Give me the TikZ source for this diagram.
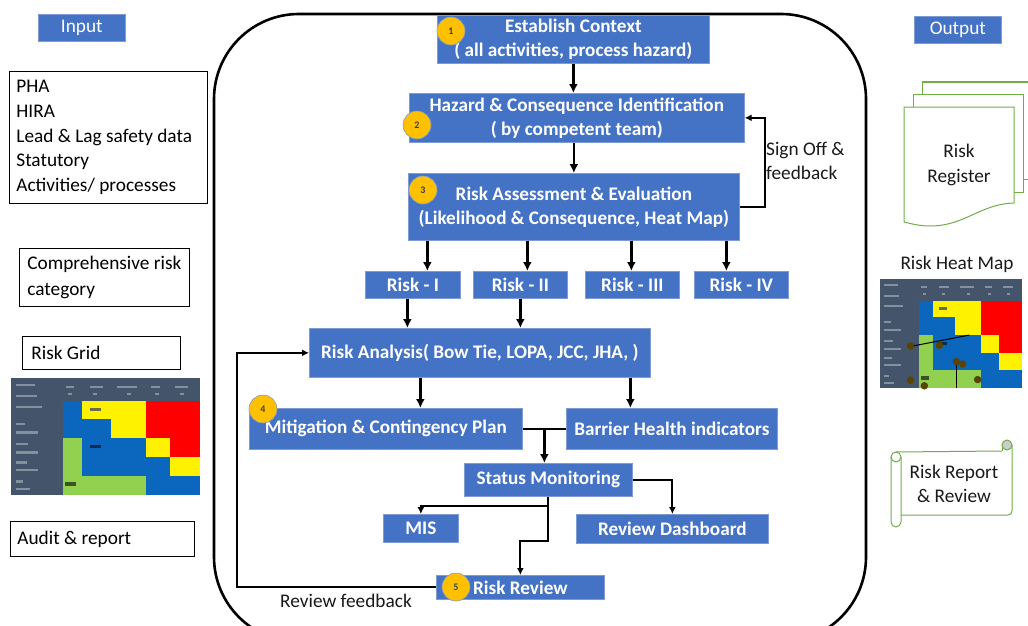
\documentclass[tikz,border=0pt]{standalone}
\usepackage{fontspec}
\setmainfont{Carlito}
\usetikzlibrary{arrows.meta,calc}
\definecolor{bluebox}{HTML}{4472C4}
\definecolor{blueedge}{HTML}{7F9BD3}
\definecolor{badge}{HTML}{FFC000}
\definecolor{docgreen}{HTML}{70AD47}
\definecolor{slate}{HTML}{44546A}
\definecolor{hmblue}{HTML}{0B66BE}
\definecolor{hmgreen}{HTML}{92D050}
\tikzset{
  x=1pt,y=-1pt,
  blockstyle/.style={draw=blueedge,line width=0.7pt,fill=bluebox,text=white,font=\fontsize{19.2}{24}\selectfont\bfseries,align=center,inner sep=0pt,anchor=north west},
  tagstyle/.style={draw=blueedge,line width=0.7pt,fill=bluebox,text=white,font=\fontsize{19.3}{22}\selectfont,inner sep=0pt,anchor=north west},
  notestyle/.style={draw=black,line width=0.8pt,fill=white,font=\fontsize{19.3}{24.7}\selectfont,align=flush left,inner sep=0pt,anchor=north west},
  plainlabel/.style={font=\fontsize{19.3}{24.5}\selectfont,align=center,inner sep=0pt,text=black!90},
  leftlabel/.style={font=\fontsize{19.3}{24}\selectfont,align=left,inner sep=0pt,text=black!90,anchor=west},
  badgestyle/.style={circle,draw=blueedge,line width=0.6pt,fill=badge,minimum size=28pt,inner sep=0pt,font=\fontsize{10}{10}\selectfont\bfseries,text=black!75},
  flow/.style={draw=black,line width=2.5pt,-{Latex[length=9pt,width=9pt]}},
  flowthin/.style={draw=black,line width=2.2pt,-{Latex[length=7pt,width=7pt]}},
  joinline/.style={draw=black,line width=2.2pt},
  docline/.style={draw=docgreen,line width=1pt},
}
\newcommand{\heatmapcells}{%
  \fill[slate] (33,25) rectangle (600,375);
  \fill[hmblue] (188,95) rectangle (245,205);
  \fill[yellow] (245,95) rectangle (437,148);
  \fill[yellow] (333,148) rectangle (437,205);
  \fill[hmblue] (245,148) rectangle (333,205);
  \fill[red] (437,95) rectangle (600,205);
  \fill[red] (510,205) rectangle (600,262);
  \fill[yellow] (437,205) rectangle (510,262);
  \fill[hmgreen] (188,205) rectangle (245,318);
  \fill[hmblue] (245,205) rectangle (437,318);
  \fill[hmblue] (437,262) rectangle (510,318);
  \fill[yellow] (510,262) rectangle (600,318);
  \fill[hmgreen] (188,318) rectangle (437,375);
  \fill[hmblue] (437,318) rectangle (600,375);
  \foreach \xa/\xb/\yy in {48/105/42,48/110/75,48/125/108,48/75/160,48/115/185,48/85/220,48/115/245,48/80/275,48/115/298,48/70/332,48/90/355,
     198/222/48,270/310/48,352/410/48,452/480/48,525/565/48,205/215/70,280/292/70,380/392/70,465/477/70,540/552/70}
    \fill[slate!65!white] (\xa,\yy) rectangle (\xb,\yy+7);
  \fill[black!65!yellow] (270,115) rectangle (302,125);
  \fill[black!55!hmblue] (270,226) rectangle (302,236);
  \fill[black!60!hmgreen] (195,338) rectangle (228,348);
}
\begin{document}
\begin{tikzpicture}
\useasboundingbox (0,0) rectangle (1028,626);
\begin{scope}
\clip (0,0) rectangle (1028,626);
\draw[black,line width=2.6pt,rounded corners=85pt] (214,14) rectangle (866,642);
\end{scope}

% input column
\node[tagstyle,minimum width=87pt,minimum height=27pt] (inp) at (38,14) {Input};
\node[notestyle,minimum width=198pt,minimum height=132pt,text width=184pt] (src) at (9,71) {PHA\\HIRA\\Lead \& Lag safety data\\Statutory\\Activities/ processes};
\node[notestyle,minimum width=170pt,minimum height=58pt,text width=154pt] (cat) at (19,248) {\mbox{Comprehensive risk}\\[1.5pt]category};
\node[notestyle,minimum width=158pt,minimum height=33pt,text width=140pt] (grid) at (22,336) {Risk Grid};
\node[notestyle,minimum width=184pt,minimum height=35pt,text width=170pt] (aud) at (10,521) {Audit \& report};
\begin{scope}[shift={(0,369.667)},x=0.3333pt,y=-0.3333pt]
\heatmapcells
\end{scope}

% output column
\node[tagstyle,minimum width=87pt,minimum height=27pt] (outp) at (914,16) {Output};
\draw[docline] (922,94) -- (922,82) -- (1028,82);
\draw[docline] (1023,179) -- (1028,179);
\draw[docline] (913,107) -- (913,94) -- (1023,94) -- (1023,192) -- (1014,192);
\draw[docline] (904,107) -- (1014,107) -- (1014,203)
   .. controls (980,204) and (965,226) .. (930,226)
   .. controls (920,226) and (912,224) .. (904,222) -- cycle;
\node[plainlabel] (reg) at (959,165) {Risk\\Register};
\node[plainlabel] (hmt) at (957,264) {Risk Heat Map};
\begin{scope}[shift={(871.735,271.2)},x=0.25044pt,y=-0.31143pt]
\heatmapcells
\draw[black,line width=1pt] (165,240) -- (390,205);
\draw[black,line width=1pt] (338,290) -- (338,375);
\foreach \px/\py in {270/238,363/298,423/348,155/350,210/368,338/290,155/240}
  \fill[black!65!badge] (\px,\py) circle[x radius=15,y radius=12];
\end{scope}
% scroll
\draw[docline] (896,452) -- (1002,451);
\draw[docline] (1002,445) -- (1002,451);
\draw[docline,rounded corners=4pt] (1012,445) -- (1012,515) -- (901,515);
\draw[docline,rounded corners=5pt] (891,457) -- (891,527) -- (901,527) -- (901,457);
\draw[docline] (896,457) circle[radius=5pt];
\draw[docline,fill=black!20] (1007,445) circle[radius=5pt];
\node[plainlabel] (rep) at (954,484) {Risk Report\\\& Review};

% main blocks
\node[blockstyle,minimum width=272pt,minimum height=48pt] (est) at (437,15) {Establish Context\\( all activities, process hazard)};
\node[blockstyle,minimum width=335pt,minimum height=49pt] (haz) at (409,93) {Hazard \& Consequence Identification\\( by competent team)};
\node[blockstyle,minimum width=331pt,minimum height=67pt] (ass) at (408,173) {Risk Assessment \& Evaluation\\(Likelihood \& Consequence, Heat Map)};
\node[blockstyle,minimum width=95pt,minimum height=27pt] (ra) at (365,271) {Risk - I};
\node[blockstyle,minimum width=94pt,minimum height=27pt] (rb) at (473,271) {Risk - II};
\node[blockstyle,minimum width=94pt,minimum height=27pt] (rc) at (585,271) {Risk - III};
\node[blockstyle,minimum width=94pt,minimum height=27pt] (rd) at (694,271) {Risk - IV};
\node[blockstyle,minimum width=341pt,minimum height=49pt] (ana) at (309,328) {Risk Analysis( Bow Tie, LOPA, JCC, JHA, )};
\node[blockstyle,minimum width=273pt,minimum height=41pt] (mit) at (249,408) {Mitigation \& Contingency Plan};
\node[blockstyle,minimum width=211pt,minimum height=41pt] (bar) at (566,408) {Barrier Health indicators};
\node[blockstyle,minimum width=168pt,minimum height=33pt] (sta) at (464,463) {Status Monitoring};
\node[blockstyle,minimum width=75pt,minimum height=28pt] (mis) at (383,514) {MIS};
\node[blockstyle,minimum width=192pt,minimum height=29pt] (dash) at (576,514) {Review Dashboard};
\node[blockstyle,minimum width=168pt,minimum height=24pt] (rev) at (436,575) {Risk Review};

\node[leftlabel] (sign) at (766,161) {Sign Off \&\\feedback};
\node[plainlabel] (fb) at (346,601) {Review feedback};

% connectors
\draw[flow] (est.south) -- (est.south |- haz.north);
\draw[flow] (ass.north |- haz.south) -- (ass.north);
\draw[flowthin] (ass.east) -- ++(25,0) |- (haz.east);
\draw[flow] ([xshift=14.5pt]ra.north |- ass.south) -- ([xshift=14.5pt]ra.north);
\draw[flow] ([xshift=7pt]rb.north |- ass.south) -- ([xshift=7pt]rb.north);
\draw[flow] ([xshift=-1pt]rc.north |- ass.south) -- ([xshift=-1pt]rc.north);
\draw[flow] ([xshift=-15pt]rd.north |- ass.south) -- ([xshift=-15pt]rd.north);
\draw[flow] ([xshift=-5.5pt]ra.south) -- ([xshift=-5.5pt]ra.south |- ana.north);
\draw[flow] (rb.south) -- (rb.south |- ana.north);
\draw[flow] ([xshift=34.5pt]mit.north |- ana.south) -- ([xshift=34.5pt]mit.north);
\draw[flow] ([xshift=-41.5pt]bar.north |- ana.south) -- ([xshift=-41.5pt]bar.north);
\draw[joinline] (mit.east) -- (bar.west);
\coordinate (mid) at ($(mit.east)!0.5!(bar.west)$);
\draw[flow] (mid) -- (mid |- sta.north);
\draw[flowthin] (sta.east) -| (dash.north);
\draw[flowthin] (sta.south) -- ++(0,9) -| (mis.north);
\draw[flowthin] (sta.south) -- ++(0,44) -| (rev.north);
\draw[flowthin] (rev.west) -| ($(ana.west)+(-72,0)$) -- (ana.west);

% badges
\node[badgestyle] (b1) at (451,31) {1};
\node[badgestyle] (b2) at (417,125) {2};
\node[badgestyle] (b3) at (423,190) {3};
\node[badgestyle] (b4) at (263,409) {4};
\node[badgestyle] (b5) at (456,587) {5};
\end{tikzpicture}
\end{document}
